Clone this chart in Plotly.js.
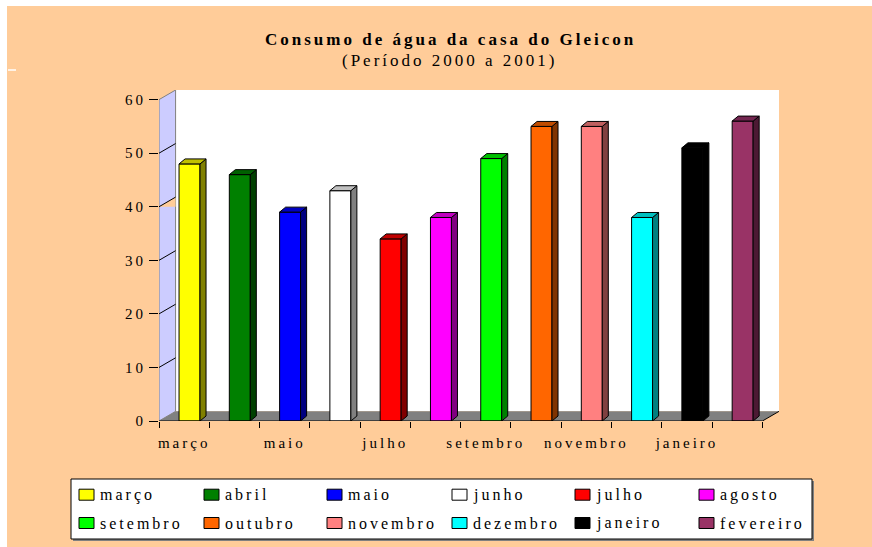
<!DOCTYPE html>
<html>
<head>
<meta charset="utf-8">
<script src="https://cdn.plot.ly/plotly-3.0.1.min.js"></script>
<style>
  body { margin: 0; background: #fff; }
  #chart { width: 872px; height: 547px; }
  text { letter-spacing: 3px; }
</style>
</head>
<body>
<div id="chart"></div>
<script>
// monthly water use, mar/2000 .. feb/2001
var months = ["março", "abril", "maio", "junho", "julho", "agosto",
              "setembro", "outubro", "novembro", "dezembro", "janeiro", "fevereiro"];
var consumo = [48, 46, 39, 43, 34, 38, 49, 55, 55, 38, 51, 56];
var yTicks = [0, 10, 20, 30, 40, 50, 60];

var frontColors = ["#FFFF00", "#008000", "#0000FF", "#FFFFFF", "#FF0000", "#FF00FF",
                   "#00FF00", "#FF6600", "#FF8080", "#00FFFF", "#000000", "#993366"];
var sideColors  = ["#808000", "#004000", "#000080", "#808080", "#800000", "#800080",
                   "#008000", "#803300", "#804040", "#008080", "#000000", "#4C1933"];
var topColors   = ["#C0C000", "#006000", "#0000C0", "#C0C0C0", "#C00000", "#C000C0",
                   "#00C000", "#C04C00", "#C06060", "#00C0C0", "#000000", "#732650"];

var FONT = "Liberation Serif, Times New Roman, serif";
var PEACH = "#FFCC99";

// 3d look
var WALL_DX = 0.33, WALL_DY = 1.8;
var BAR_OFF = 0.107, BAR_W = 0.417, BAR_DX = 0.12, BAR_DY = 0.93;

// plot box in pixels (for paper-placed bits)
var L = 159, T = 90, W = 620, H = 331;
function px(p) { return (p - L) / W; }
function py(p) { return (T + H - p) / H; }

var n = months.length;
var xs = months.map(function (m, i) { return i; });

var traces = [{
  type: "bar",
  x: xs.map(function (i) { return i + BAR_OFF; }),
  y: consumo,
  width: BAR_W,
  marker: { color: frontColors, line: { color: "#000", width: 1 } },
  hoverinfo: "none",
  showlegend: false
}];

consumo.forEach(function (v, i) {
  var xl = i + BAR_OFF - BAR_W / 2;
  var xr = i + BAR_OFF + BAR_W / 2;
  traces.push({
    type: "scatter", mode: "lines", fill: "toself",
    x: [xr, xr + BAR_DX, xr + BAR_DX, xr, xr],
    y: [0, BAR_DY, v + BAR_DY, v, 0],
    fillcolor: sideColors[i],
    line: { color: "#000", width: 1 },
    hoverinfo: "none", showlegend: false
  });
  traces.push({
    type: "scatter", mode: "lines", fill: "toself",
    x: [xl, xl + BAR_DX, xr + BAR_DX, xr, xl],
    y: [v, v + BAR_DY, v + BAR_DY, v, v],
    fillcolor: topColors[i],
    line: { color: "#000", width: 1 },
    hoverinfo: "none", showlegend: false
  });
});

var x0 = -0.5, x1 = n - 0.5;
var yMax = yTicks[yTicks.length - 1];

var shapes = [
  // peach page
  { type: "rect", xref: "paper", yref: "paper", x0: px(7), x1: px(872), y0: py(6), y1: py(547),
    fillcolor: PEACH, line: { width: 0 }, layer: "below" },
  { type: "line", xref: "paper", yref: "paper", x0: px(8), x1: px(16), y0: py(70), y1: py(70),
    line: { color: "#fff", width: 1.5 }, layer: "below" },
  // back wall
  { type: "rect", xref: "x", yref: "y", x0: x0 + WALL_DX, x1: x1 + WALL_DX, y0: WALL_DY, y1: yMax + WALL_DY,
    fillcolor: "#fff", line: { width: 0 }, layer: "below" },
  // floor
  { type: "path", xref: "x", yref: "y", layer: "below",
    path: "M" + x0 + ",0L" + x1 + ",0L" + (x1 + WALL_DX) + "," + WALL_DY + "L" + (x0 + WALL_DX) + "," + WALL_DY + "Z",
    fillcolor: "#808080", line: { width: 0 } },
  // side wall
  { type: "path", xref: "x", yref: "y", layer: "below",
    path: "M" + x0 + ",0L" + x0 + "," + yMax + "L" + (x0 + WALL_DX) + "," + (yMax + WALL_DY) +
          "L" + (x0 + WALL_DX) + "," + WALL_DY + "Z",
    fillcolor: "#CCCCFF", line: { color: "#808080", width: 1 } },
  { type: "path", xref: "x", yref: "y", layer: "below",
    path: "M" + x0 + ",40L" + (x0 + WALL_DX) + "," + (40 + WALL_DY) + "L" + (x0 + WALL_DX) + ",40Z",
    fillcolor: PEACH, line: { width: 0 } },
  // front axis line + floor end
  { type: "line", xref: "x", yref: "y", x0: x0, x1: x1, y0: 0, y1: 0, line: { color: "#000", width: 1 } },
  { type: "line", xref: "x", yref: "y", x0: x1, x1: x1 + WALL_DX, y0: 0, y1: WALL_DY, line: { color: "#000", width: 1 } }
];

yTicks.forEach(function (v) {
  if (v === 0 || v === yMax) return;
  shapes.push({ type: "line", xref: "x", yref: "y", x0: x0, x1: x0 + WALL_DX, y0: v, y1: v + WALL_DY,
    line: { color: "#000", width: 1 }, layer: "below" });
});

// legend box
shapes.push({ type: "rect", xref: "paper", yref: "paper", x0: px(73), x1: px(814), y0: py(481), y1: py(541),
  fillcolor: "#808080", line: { width: 0 }, layer: "below" });
shapes.push({ type: "rect", xref: "paper", yref: "paper", x0: px(71), x1: px(812), y0: py(479), y1: py(539),
  fillcolor: "#fff", line: { color: "#000", width: 1 }, layer: "below" });

var annotations = [
  { xref: "paper", yref: "paper", x: px(450), y: py(40), xanchor: "center", yanchor: "middle", showarrow: false,
    text: "<b>Consumo de água da casa do Gleicon</b>", font: { family: FONT, size: 17, color: "#000" } },
  { xref: "paper", yref: "paper", x: px(450), y: py(61), xanchor: "center", yanchor: "middle", showarrow: false,
    text: "(Período 2000 a 2001)", font: { family: FONT, size: 17, color: "#000" } }
];

var colX = [79, 204, 327, 452, 575, 699];
var rowY = [494.7, 523];
months.forEach(function (m, i) {
  var cx = colX[i % 6], cy = rowY[Math.floor(i / 6)];
  shapes.push({ type: "rect", xref: "paper", yref: "paper", x0: px(cx), x1: px(cx + 15),
    y0: py(cy - 5.5), y1: py(cy + 5.5), fillcolor: frontColors[i],
    line: { color: "#000", width: 1 }, layer: "below" });
  annotations.push({ xref: "paper", yref: "paper", x: px(cx + 19), y: py(cy), xanchor: "left", yanchor: "middle",
    showarrow: false, text: m, font: { family: FONT, size: 16, color: "#000" } });
});

var layout = {
  width: 872, height: 547,
  margin: { l: L, r: 872 - L - W, t: T, b: 547 - T - H },
  paper_bgcolor: "#fff",
  plot_bgcolor: "rgba(0,0,0,0)",
  showlegend: false,
  font: { family: FONT, color: "#000" },
  xaxis: {
    range: [x0, x1 + WALL_DX], fixedrange: true,
    showgrid: false, zeroline: false, showline: false,
    tickmode: "array",
    tickvals: xs.filter(function (i) { return i % 2 === 0; }),
    ticktext: months.filter(function (m, i) { return i % 2 === 0; }),
    ticks: "", ticklabelstandoff: 11,
    tickfont: { family: FONT, size: 15, color: "#000" },
    minor: { tickmode: "array", tickvals: xs.concat([n]).map(function (i) { return i - 0.5; }),
             ticks: "outside", ticklen: 6, tickcolor: "#000", tickwidth: 1, showgrid: false }
  },
  yaxis: {
    range: [0, yMax + WALL_DY], fixedrange: true,
    showgrid: false, zeroline: false, showline: false,
    tickmode: "array", tickvals: yTicks,
    ticks: "outside", ticklen: 9, tickcolor: "#000", tickwidth: 1,
    tickfont: { family: FONT, size: 15, color: "#000" }
  },
  shapes: shapes,
  annotations: annotations
};

Plotly.newPlot("chart", traces, layout, { displayModeBar: false, staticPlot: true });
</script>
</body>
</html>
